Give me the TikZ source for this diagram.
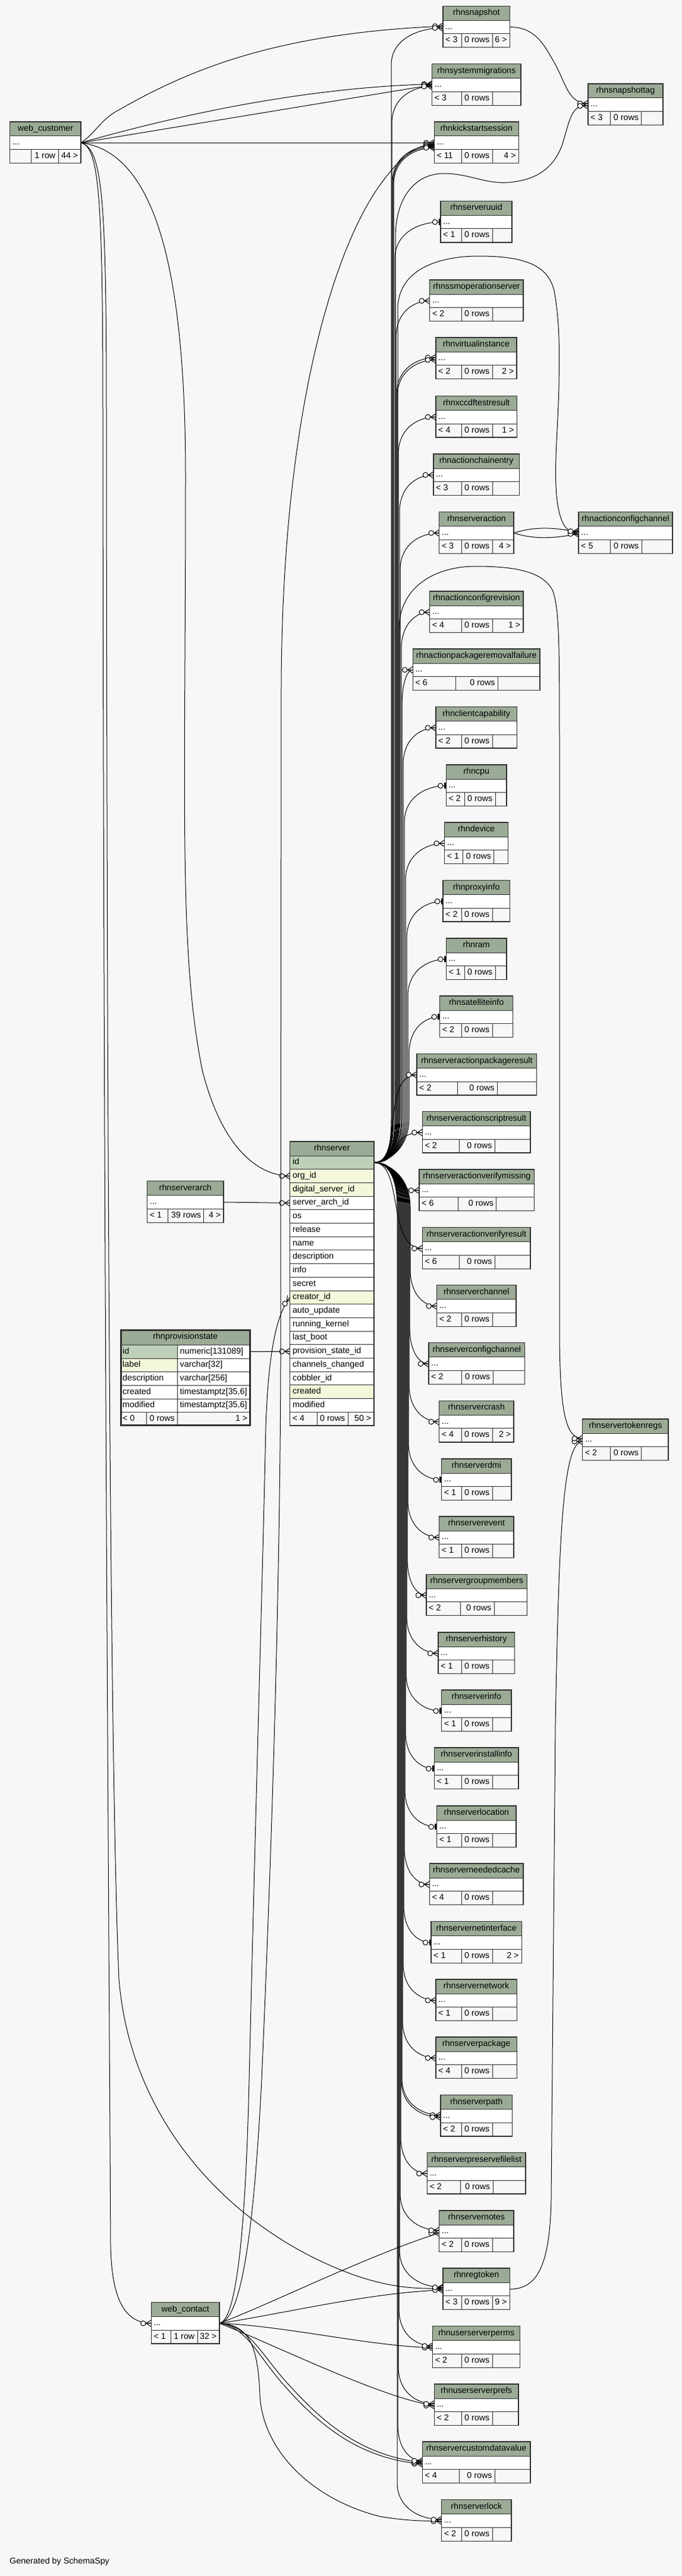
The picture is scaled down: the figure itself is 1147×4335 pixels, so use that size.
\documentclass[tikz,border=0pt]{standalone}
\usepackage{fontspec}
\setmainfont{Liberation Sans}
\usetikzlibrary{calc}
\pgfdeclarelayer{bglayer}
\pgfdeclarelayer{edgelayer}
\pgfsetlayers{bglayer,edgelayer,main}
\definecolor{bgc}{HTML}{F7F7F7}
\definecolor{hdrc}{HTML}{9BAB96}
\definecolor{pkc}{HTML}{BED1B8}
\definecolor{idxc}{HTML}{F4F7DA}
\definecolor{bdc}{HTML}{2E2E2E}
\tikzset{
  rel/.style={draw=black, line width=1pt},
  tblborder/.style={draw=bdc, line width=1.3pt},
  gridline/.style={draw=bdc, line width=1pt},
  txt/.style={inner sep=0pt, font=\fontsize{14.3}{17}\selectfont, text=black, text height=10pt, text depth=3pt},
  crowfoot/.pic={
    \draw[line width=1pt] (-8.8,0) -- (0,5.5) (-8.8,0) -- (0,-5.5) (-9,0) -- (0,0);
    \draw[line width=1pt, fill=bgc] (-13.5,0) circle (4.2);
  },
  teemark/.pic={
    \fill[black] (-3.5,-5.2) rectangle (0,5.2);
    \draw[line width=1pt, fill=bgc] (-9.5,0) circle (4.2);
  },
}
\def\sa{776}\def\sb{828}
\newcommand\setsplit[2]{\gdef\sa{#1}\gdef\sb{#2}}
\newcommand\dbtable[8]{%
  \pgfmathsetmacro\tya{-(#5)}%
  \pgfmathsetmacro\tyb{-(#5)-24}%
  \pgfmathsetmacro\tyc{-(#5)-46.5}%
  \pgfmathsetmacro\tyd{-(#5)-69.5}%
  \pgfmathsetmacro\tym{-(#5)-35.25}%
  \pgfmathsetmacro\tyh{-(#5)-12}%
  \pgfmathsetmacro\tyf{-(#5)-58}%
  \pgfmathsetmacro\txc{((#3)+(#4))/2}%
  \pgfmathsetmacro\txl{(#3)+4}%
  \pgfmathsetmacro\txr{(#4)-4.5}%
  \pgfmathsetmacro\txm{\sb-4.5}%
  \fill[hdrc] (#3,\tya) rectangle (#4,\tyb);
  \fill[white] (#3,\tyb) rectangle (#4,\tyc);
  \fill[bgc] (#3,\tyc) rectangle (#4,\tyd);
  \draw[gridline] (#3,\tyb) -- (#4,\tyb) (#3,\tyc) -- (#4,\tyc) (\sa,\tyc) -- (\sa,\tyd) (\sb,\tyc) -- (\sb,\tyd);
  \draw[tblborder] (#3,\tya) rectangle (#4,\tyd);
  \node[txt] (#1) at (\txc,\tyh) {#2};
  \node[txt,anchor=west] (#1-dots) at (\txl,\tym) {...};
  \node[txt,anchor=west] (#1-l) at (\txl,\tyf) {#6};
  \node[txt,anchor=east] (#1-m) at (\txm,\tyf) {#7};
  \node[txt,anchor=east] (#1-r) at (\txr,\tyf) {#8};
  \coordinate (#1-w) at (#3,\tym);
  \coordinate (#1-e) at (#4,\tym);
  \gdef\sa{776}\gdef\sb{828}%
}
% edge from rhnserver.id to a table above
\newcommand\srvup[4]{%
  \draw[rel] let \p1=([yshift=#3pt]#1-w), \p2=(srvid) in
    (\p2) .. controls (\x2+22,\y2) and (#2,\y2+22) .. (#2,\y2+75)
    -- (#2,\y1-62) .. controls (#2,\y1-20) and ({0.5*#2+0.5*\x1},\y1) .. (\p1);
  \pic at ([yshift=#3pt]#1-w) {#4};
}
% edge from rhnserver.id to a table below
\newcommand\srvdown[4]{%
  \draw[rel] let \p1=([yshift=#3pt]#1-w), \p2=(srvid) in
    (\p2) .. controls (\x2+22,\y2) and (#2,\y2-22) .. (#2,\y2-75)
    -- (#2,\y1+62) .. controls (#2,\y1+20) and ({0.5*#2+0.5*\x1},\y1) .. (\p1);
  \pic at ([yshift=#3pt]#1-w) {#4};
}
% edge from rhnserver.id to a nearby table
\newcommand\srvnear[3]{%
  \draw[rel] let \p1=([yshift=#2pt]#1-w), \p2=(srvid) in
    (\p2) .. controls (\x2+50,\y2) and (\x1-60,\y1) .. (\p1);
  \pic at ([yshift=#2pt]#1-w) {#3};
}
\begin{document}
\begin{tikzpicture}[x=1pt,y=1pt]
\useasboundingbox (0,0) rectangle (1147,-4335);
\begin{pgfonlayer}{bglayer}
  \fill[bgc] (0,0) rectangle (1147,-4335);
\end{pgfonlayer}

% ---------------- tables ----------------
\setsplit{52.7}{98}
\dbtable{webcustomer}{web\_customer}{16.8}{136}{205}{}{1 row}{44 >}
\setsplit{287}{332}
\dbtable{webcontact}{web\_contact}{254.3}{369}{3874.5}{< 1}{1 row}{32 >}
\setsplit{282.7}{342.7}
\dbtable{rhnserverarch}{rhnserverarch}{247.7}{376}{1987.7}{< 1}{39 rows}{4 >}

\dbtable{rhnsnapshot}{rhnsnapshot}{745}{857.3}{10.3}{< 3}{0 rows}{6 >}
\dbtable{rhnsystemmigrations}{rhnsystemmigrations}{726.7}{876}{107.7}{< 3}{0 rows}{}
\dbtable{rhnkickstartsession}{rhnkickstartsession}{730.3}{872.3}{205}{< 11}{0 rows}{4 >}
\setsplit{1026.7}{1078.7}
\dbtable{rhnsnapshottag}{rhnsnapshottag}{989}{1115}{141}{< 3}{0 rows}{}
\dbtable{rhnserveruuid}{rhnserveruuid}{741}{861}{338.4}{< 1}{0 rows}{}
\dbtable{rhnssmoperationserver}{rhnssmoperationserver}{722.8}{880}{471}{< 2}{0 rows}{}
\dbtable{rhnvirtualinstance}{rhnvirtualinstance}{733}{869}{568}{< 2}{0 rows}{2 >}
\dbtable{rhnxccdftestresult}{rhnxccdftestresult}{733}{869.3}{666.5}{< 4}{0 rows}{1 >}
\dbtable{rhnactionchainentry}{rhnactionchainentry}{729}{873.3}{764}{< 3}{0 rows}{}
\dbtable{rhnserveraction}{rhnserveraction}{738.7}{864}{861.7}{< 3}{0 rows}{4 >}
\setsplit{1026.7}{1079}
\dbtable{rhnactionconfigchannel}{rhnactionconfigchannel}{973}{1131}{861.7}{< 5}{0 rows}{}
\dbtable{rhnactionconfigrevision}{rhnactionconfigrevision}{722.7}{880}{995}{< 4}{0 rows}{1 >}
\setsplit{766.7}{837.3}
\dbtable{rhnactionpackageremovalfailure}{rhnactionpackageremovalfailure}{694.3}{908}{1092}{< 6}{0 rows}{}
\dbtable{rhnclientcapability}{rhnclientcapability}{733}{869.3}{1189.5}{< 2}{0 rows}{}
\setsplit{781}{833}
\dbtable{rhncpu}{rhncpu}{750.3}{852}{1287}{< 2}{0 rows}{}
\setsplit{778.7}{830.7}
\dbtable{rhndevice}{rhndevice}{747.7}{854.7}{1384}{< 1}{0 rows}{}
\dbtable{rhnproxyinfo}{rhnproxyinfo}{745}{857.3}{1481.6}{< 2}{0 rows}{}
\setsplit{781.3}{833}
\dbtable{rhnram}{rhnram}{750.3}{852}{1579}{< 1}{0 rows}{}
\dbtable{rhnsatelliteinfo}{rhnsatelliteinfo}{739.7}{862.7}{1676}{< 2}{0 rows}{}
\setsplit{769}{836.3}
\dbtable{rhnserveractionpackageresult}{rhnserveractionpackageresult}{701}{902.7}{1773.5}{< 2}{0 rows}{}
\setsplit{772}{832.3}
\dbtable{rhnserveractionscriptresult}{rhnserveractionscriptresult}{710.3}{892}{1870.6}{< 2}{0 rows}{}
\setsplit{770.7}{834.7}
\dbtable{rhnserveractionverifymissing}{rhnserveractionverifymissing}{705}{898.7}{1968}{< 6}{0 rows}{}
\setsplit{772}{832.3}
\dbtable{rhnserveractionverifyresult}{rhnserveractionverifyresult}{710.3}{892}{2065.8}{< 6}{0 rows}{}
\dbtable{rhnserverchannel}{rhnserverchannel}{734.7}{868}{2162.7}{< 2}{0 rows}{}
\setsplit{776}{829}
\dbtable{rhnserverconfigchannel}{rhnserverconfigchannel}{721}{882.7}{2259.8}{< 2}{0 rows}{}
\dbtable{rhnservercrash}{rhnservercrash}{738.7}{864}{2357.4}{< 4}{0 rows}{2 >}
\dbtable{rhnserverdmi}{rhnserverdmi}{742.7}{860}{2455}{< 1}{0 rows}{}
\dbtable{rhnserverevent}{rhnserverevent}{738.7}{864}{2552}{< 1}{0 rows}{}
\setsplit{774.7}{831}
\dbtable{rhnservergroupmembers}{rhnservergroupmembers}{717}{886.7}{2649.3}{< 2}{0 rows}{}
\dbtable{rhnserverhistory}{rhnserverhistory}{737}{865.3}{2747}{< 1}{0 rows}{}
\setsplit{1026.7}{1078.7}
\dbtable{rhnservertokenregs}{rhnservertokenregs}{979.7}{1124}{2388}{< 2}{0 rows}{}
\dbtable{rhnserverinfo}{rhnserverinfo}{742.7}{860}{2844}{< 1}{0 rows}{}
\dbtable{rhnserverinstallinfo}{rhnserverinstallinfo}{730.3}{872}{2941}{< 1}{0 rows}{}
\dbtable{rhnserverlocation}{rhnserverlocation}{734.7}{868}{3039}{< 1}{0 rows}{}
\dbtable{rhnserverneededcache}{rhnserverneededcache}{722.3}{880}{3136}{< 4}{0 rows}{}
\dbtable{rhnservernetinterface}{rhnservernetinterface}{725}{877.3}{3233.7}{< 1}{0 rows}{2 >}
\dbtable{rhnservernetwork}{rhnservernetwork}{733}{869.3}{3331}{< 1}{0 rows}{}
\dbtable{rhnserverpackage}{rhnserverpackage}{733}{869.3}{3428}{< 4}{0 rows}{}
\dbtable{rhnserverpath}{rhnserverpath}{741}{861.3}{3525.6}{< 2}{0 rows}{}
\setsplit{774.7}{829}
\dbtable{rhnserverpreservefilelist}{rhnserverpreservefilelist}{718.3}{884}{3622.5}{< 2}{0 rows}{}
\dbtable{rhnservernotes}{rhnservernotes}{738.7}{864}{3720}{< 2}{0 rows}{}
\dbtable{rhnregtoken}{rhnregtoken}{745}{857.3}{3817}{< 3}{0 rows}{9 >}
\dbtable{rhnuserserverperms}{rhnuserserverperms}{727.7}{874.7}{3914.6}{< 2}{0 rows}{}
\dbtable{rhnuserserverprefs}{rhnuserserverprefs}{730.3}{872}{4012}{< 2}{0 rows}{}
\setsplit{772}{832.3}
\dbtable{rhnservercustomdatavalue}{rhnservercustomdatavalue}{710.3}{892}{4109}{< 4}{0 rows}{}
\dbtable{rhnserverlock}{rhnserverlock}{742.7}{860}{4206.7}{< 2}{0 rows}{}

% ---------------- rhnserver ----------------
\fill[hdrc] (487.7,-1921) rectangle (629,-1945);
\node[txt] (rhnserver) at (558.35,-1933) {rhnserver};
\foreach \ctext/\fc [count=\i from 0] in {id/pkc,org\_id/idxc,digital\_server\_id/idxc,server\_arch\_id/white,os/white,release/white,name/white,description/white,info/white,secret/white,creator\_id/idxc,auto\_update/white,running\_kernel/white,last\_boot/white,provision\_state\_id/white,channels\_changed/white,cobbler\_id/white,created/idxc,modified/white}{
  \fill[\fc] (487.7,{-1945-22.7*\i}) rectangle (629,{-1945-22.7*(\i+1)});
  \draw[gridline] (487.7,{-1945-22.7*\i}) -- (629,{-1945-22.7*\i});
  \node[txt,anchor=west] (srvrow\i) at (492,{-1945-22.7*\i-11.35}) {\ctext};
}
\fill[bgc] (487.7,-2376.3) rectangle (629,-2399);
\draw[gridline] (487.7,-2376.3) -- (629,-2376.3) (533,-2376.3) -- (533,-2399) (585,-2376.3) -- (585,-2399);
\draw[tblborder] (487.7,-1921) rectangle (629,-2399);
\node[txt,anchor=west] (rhnserver-l) at (491.7,-2387.7) {< 4};
\node[txt,anchor=east] (rhnserver-m) at (580.5,-2387.7) {0 rows};
\node[txt,anchor=east] (rhnserver-r) at (624.5,-2387.7) {50 >};
\coordinate (srvid) at (629,-1956.35);
\coordinate (srvorg) at (487.7,-1979.05);
\coordinate (srvarch) at (487.7,-2024.45);
\coordinate (srvcreator) at (487.7,-2183.35);
\coordinate (srvprov) at (487.7,-2274.15);

% ---------------- rhnprovisionstate ----------------
\fill[hdrc] (201.7,-2236.7) rectangle (421.7,-2263.3);
\node[txt] (rhnprovisionstate) at (311.7,-2250) {rhnprovisionstate};
\foreach \ca/\fc/\cb [count=\i from 0] in {id/pkc/{numeric[131089]},label/idxc/{varchar[32]},description/white/{varchar[256]},created/white/{timestamptz[35,6]},modified/white/{timestamptz[35,6]}}{
  \fill[\fc] (201.7,{-2263.3-22.7*\i}) rectangle (298.3,{-2263.3-22.7*(\i+1)});
  \fill[white] (298.3,{-2263.3-22.7*\i}) rectangle (421.7,{-2263.3-22.7*(\i+1)});
  \draw[gridline] (201.7,{-2263.3-22.7*\i}) -- (421.7,{-2263.3-22.7*\i});
  \node[txt,anchor=west] (provrowa\i) at (206,{-2263.3-22.7*\i-11.35}) {\ca};
  \node[txt,anchor=west] (provrowb\i) at (302.5,{-2263.3-22.7*\i-11.35}) {\cb};
}
\fill[bgc] (201.7,-2376.8) rectangle (421.7,-2399.5);
\draw[gridline] (201.7,-2376.8) -- (421.7,-2376.8) (298.3,-2263.3) -- (298.3,-2399.5) (246.7,-2376.8) -- (246.7,-2399.5);
\draw[draw=bdc, line width=3pt] (203,-2238) rectangle (420.4,-2398.2);
\node[txt,anchor=west] (prov-l) at (206,-2388.2) {< 0};
\node[txt,anchor=east] (prov-m) at (294,-2388.2) {0 rows};
\node[txt,anchor=east] (prov-r) at (416.5,-2388.2) {1 >};
\coordinate (provid) at (421.7,-2274.65);

\node[txt,anchor=west] (generated) at (16,-4311) {Generated by SchemaSpy};

% ---------------- connectors ----------------
\begin{pgfonlayer}{edgelayer}
% web_customer
\draw[rel] (webcustomer-e) .. controls (160,-225) and (170,-200) .. (200,-185) .. controls (330,-110) and (480,-55) .. ([yshift=1.5pt]rhnsnapshot-w);
\pic at ([yshift=1.5pt]rhnsnapshot-w) {crowfoot};
\draw[rel] (webcustomer-e) .. controls (250,-208) and (480,-148) .. ([yshift=1.5pt]rhnsystemmigrations-w);
\pic at ([yshift=1.5pt]rhnsystemmigrations-w) {crowfoot};
\draw[rel] (webcustomer-e) -- (rhnsystemmigrations-w);
\pic at (rhnsystemmigrations-w) {crowfoot};
\draw[rel] (webcustomer-e) -- (rhnkickstartsession-w);
\pic at (rhnkickstartsession-w) {crowfoot};
\draw[rel] (webcustomer-e) .. controls (250,-255) and (312,-420) .. (312,-800) .. controls (312,-1350) and (300,-1600) .. (340,-1800) .. controls (375,-1940) and (440,-1979) .. (srvorg);
\pic at (srvorg) {crowfoot};
\draw[rel] (webcustomer-e) .. controls (166,-248) and (173,-320) .. (173,-700) .. controls (174,-2000) and (183,-3200) .. (186,-3780) .. controls (188,-3870) and (210,-3909) .. (webcontact-w);
\pic at (webcontact-w) {crowfoot};
\draw[rel] (webcustomer-e) .. controls (172,-250) and (179,-330) .. (179,-700) .. controls (180,-2000) and (186,-3000) .. (200,-3330) .. controls (220,-3580) and (400,-3760) .. (600,-3830) .. controls (660,-3850) and (700,-3852) .. ([yshift=1.5pt]rhnregtoken-w);
\pic at ([yshift=1.5pt]rhnregtoken-w) {crowfoot};

% lookup tables into rhnserver
\draw[rel] (rhnserverarch-e) -- (srvarch);
\pic at (srvarch) {crowfoot};
\draw[rel] (provid) -- (srvprov);
\pic at (srvprov) {crowfoot};

% web_contact
\draw[rel] (webcontact-e) .. controls (400,-3905) and (425,-3800) .. (440,-3500) .. controls (462,-3000) and (471,-2600) .. (472,-2300) -- (473,-1150) .. controls (475,-700) and (560,-420) .. (640,-310) .. controls (675,-262) and (700,-243) .. ([yshift=-2.5pt]rhnkickstartsession-w);
\pic at ([yshift=-2.5pt]rhnkickstartsession-w) {crowfoot};
\draw[rel] (webcontact-e) .. controls (393,-3905) and (412,-3800) .. (419,-3500) .. controls (431,-3000) and (443,-2600) .. (447,-2400) .. controls (451,-2290) and (462,-2215) .. (srvcreator);
\pic[rotate=51] at (srvcreator) {crowfoot};
\draw[rel] (webcontact-e) .. controls (460,-3875) and (620,-3795) .. ([yshift=-2.5pt]rhnservernotes-w);
\pic at ([yshift=-2.5pt]rhnservernotes-w) {crowfoot};
\draw[rel] (webcontact-e) .. controls (480,-3893) and (620,-3858) .. ([yshift=-1.5pt]rhnregtoken-w);
\pic at ([yshift=-1.5pt]rhnregtoken-w) {crowfoot};
\draw[rel] (webcontact-e) .. controls (480,-3914) and (620,-3948) .. ([yshift=-1pt]rhnuserserverperms-w);
\pic at ([yshift=-1pt]rhnuserserverperms-w) {crowfoot};
\draw[rel] (webcontact-e) .. controls (460,-3945) and (640,-4035) .. ([yshift=-1pt]rhnuserserverprefs-w);
\pic at ([yshift=-1pt]rhnuserserverprefs-w) {crowfoot};
\draw[rel] (webcontact-e) .. controls (412,-3915) and (432,-3960) .. (470,-4005) .. controls (530,-4075) and (600,-4138) .. ([yshift=-2pt]rhnservercustomdatavalue-w);
\pic at ([yshift=-2pt]rhnservercustomdatavalue-w) {crowfoot};
\draw[rel] (webcontact-e) .. controls (415,-3913) and (436,-3955) .. (474,-4000) .. controls (534,-4068) and (600,-4132) .. ([yshift=0.5pt]rhnservercustomdatavalue-w);
\pic at ([yshift=0.5pt]rhnservercustomdatavalue-w) {crowfoot};
\draw[rel] (webcontact-e) .. controls (420,-3912) and (434,-3950) .. (437,-4030) .. controls (441,-4120) and (520,-4205) .. (640,-4235) .. controls (690,-4243) and (715,-4242) .. ([yshift=-1pt]rhnserverlock-w);
\pic at ([yshift=-1pt]rhnserverlock-w) {crowfoot};

% other table-to-table
\draw[rel] (rhnsnapshot-e) .. controls (900,-45.5) and (915,-75) .. (932,-105) .. controls (952,-140) and (955,-174) .. ([yshift=2pt]rhnsnapshottag-w);
\pic at ([yshift=2pt]rhnsnapshottag-w) {crowfoot};
\draw[rel] (rhnserveraction-e) .. controls (905,-884) and (940,-889) .. ([yshift=1pt]rhnactionconfigchannel-w);
\pic at ([yshift=1pt]rhnactionconfigchannel-w) {crowfoot};
\draw[rel] (rhnserveraction-e) .. controls (905,-910) and (940,-904) .. ([yshift=-1.5pt]rhnactionconfigchannel-w);
\pic at ([yshift=-1.5pt]rhnactionconfigchannel-w) {crowfoot};
\draw[rel] (rhnregtoken-e) .. controls (900,-3852) and (925,-3820) .. (927,-3700) -- (934,-2900) .. controls (940,-2600) and (945,-2426) .. ([yshift=-2.5pt]rhnservertokenregs-w);
\pic at ([yshift=-2.5pt]rhnservertokenregs-w) {crowfoot};

% rhnserver loops to the far right column
\draw[rel] (srvid) .. controls (651,-1956.35) and (665,-1934) .. (665,-1880) -- (665,-400) .. controls (665,-330) and (700,-292) .. (746,-292) .. controls (790,-292) and (815,-310) .. (856,-307) .. controls (900,-303) and (930,-285) .. (945,-245) .. controls (958,-205) and (960,-174) .. ([yshift=-2pt]rhnsnapshottag-w);
\pic at ([yshift=-2pt]rhnsnapshottag-w) {crowfoot};
\draw[rel] (srvid) .. controls (651,-1956.35) and (669,-1934) .. (669,-1880) -- (669,-520) .. controls (669,-455) and (735,-431) .. (805,-431) .. controls (880,-431) and (925,-445) .. (933,-495) .. controls (941,-545) and (941,-580) .. (940,-650) .. controls (938,-730) and (930,-800) .. (938,-850) .. controls (944,-885) and (955,-899) .. ([yshift=3pt]rhnactionconfigchannel-w);
\pic at ([yshift=3pt]rhnactionconfigchannel-w) {crowfoot};
\draw[rel] (srvid) .. controls (651,-1956.35) and (671,-1934) .. (671,-1880) -- (671,-1060) .. controls (671,-985) and (735,-953) .. (800,-953) .. controls (870,-953) and (915,-963) .. (930,-995) .. controls (941,-1030) and (941,-1080) .. (941,-1300) -- (941,-2250) .. controls (942,-2370) and (950,-2421) .. ([yshift=2.5pt]rhnservertokenregs-w);
\pic at ([yshift=2.5pt]rhnservertokenregs-w) {crowfoot};

% rhnserver.id bundle, upwards
\srvup{rhnsnapshot}{658}{-1.5}{crowfoot}
\srvup{rhnsystemmigrations}{659}{-2.5}{crowfoot}
\srvup{rhnkickstartsession}{660}{-4.5}{crowfoot}
\srvup{rhnkickstartsession}{661}{-6.5}{crowfoot}
\srvup{rhnkickstartsession}{662}{-8.5}{crowfoot}
\srvup{rhnserveruuid}{664}{0}{teemark}
\srvup{rhnssmoperationserver}{666}{0}{crowfoot}
\srvup{rhnvirtualinstance}{667}{1.5}{crowfoot}
\srvup{rhnvirtualinstance}{668}{-2.5}{crowfoot}
\srvup{rhnxccdftestresult}{670}{0}{crowfoot}
\srvup{rhnactionchainentry}{672}{0}{crowfoot}
\srvup{rhnserveraction}{673}{0}{crowfoot}
\srvup{rhnactionconfigrevision}{675}{0}{crowfoot}
\srvup{rhnactionpackageremovalfailure}{676}{0}{crowfoot}
\srvup{rhnclientcapability}{678}{0}{crowfoot}
\srvup{rhncpu}{680}{0}{teemark}
\srvup{rhndevice}{682}{0}{crowfoot}
\srvup{rhnproxyinfo}{684}{0}{teemark}
\srvup{rhnram}{686}{0}{teemark}
\srvup{rhnsatelliteinfo}{688}{0}{teemark}
\srvnear{rhnserveractionpackageresult}{0}{crowfoot}
\srvnear{rhnserveractionscriptresult}{0}{crowfoot}
\srvnear{rhnserveractionverifymissing}{0}{crowfoot}
\srvnear{rhnserveractionverifyresult}{0}{crowfoot}
% downwards
\srvdown{rhnserverchannel}{690}{0}{crowfoot}
\srvdown{rhnserverconfigchannel}{689}{0}{crowfoot}
\srvdown{rhnservercrash}{688}{0}{crowfoot}
\srvdown{rhnserverdmi}{687}{0}{teemark}
\srvdown{rhnserverevent}{686}{0}{crowfoot}
\srvdown{rhnservergroupmembers}{685}{0}{crowfoot}
\srvdown{rhnserverhistory}{684}{0}{crowfoot}
\srvdown{rhnserverinfo}{683}{0}{teemark}
\srvdown{rhnserverinstallinfo}{682}{0}{teemark}
\srvdown{rhnserverlocation}{681}{0}{teemark}
\srvdown{rhnserverneededcache}{680}{0}{crowfoot}
\srvdown{rhnservernetinterface}{679}{0}{teemark}
\srvdown{rhnservernetwork}{678}{0}{crowfoot}
\srvdown{rhnserverpackage}{677}{0}{crowfoot}
\srvdown{rhnserverpath}{676}{1.5}{crowfoot}
\srvdown{rhnserverpath}{675}{-2}{crowfoot}
\srvdown{rhnserverpreservefilelist}{674}{0}{crowfoot}
\srvdown{rhnservernotes}{673}{2}{crowfoot}
\srvdown{rhnregtoken}{672}{3}{crowfoot}
\srvdown{rhnuserserverperms}{671}{2}{crowfoot}
\srvdown{rhnuserserverprefs}{670}{2}{crowfoot}
\srvdown{rhnservercustomdatavalue}{669}{3}{crowfoot}
\srvdown{rhnserverlock}{668}{2}{crowfoot}
\end{pgfonlayer}
\end{tikzpicture}
\end{document}
